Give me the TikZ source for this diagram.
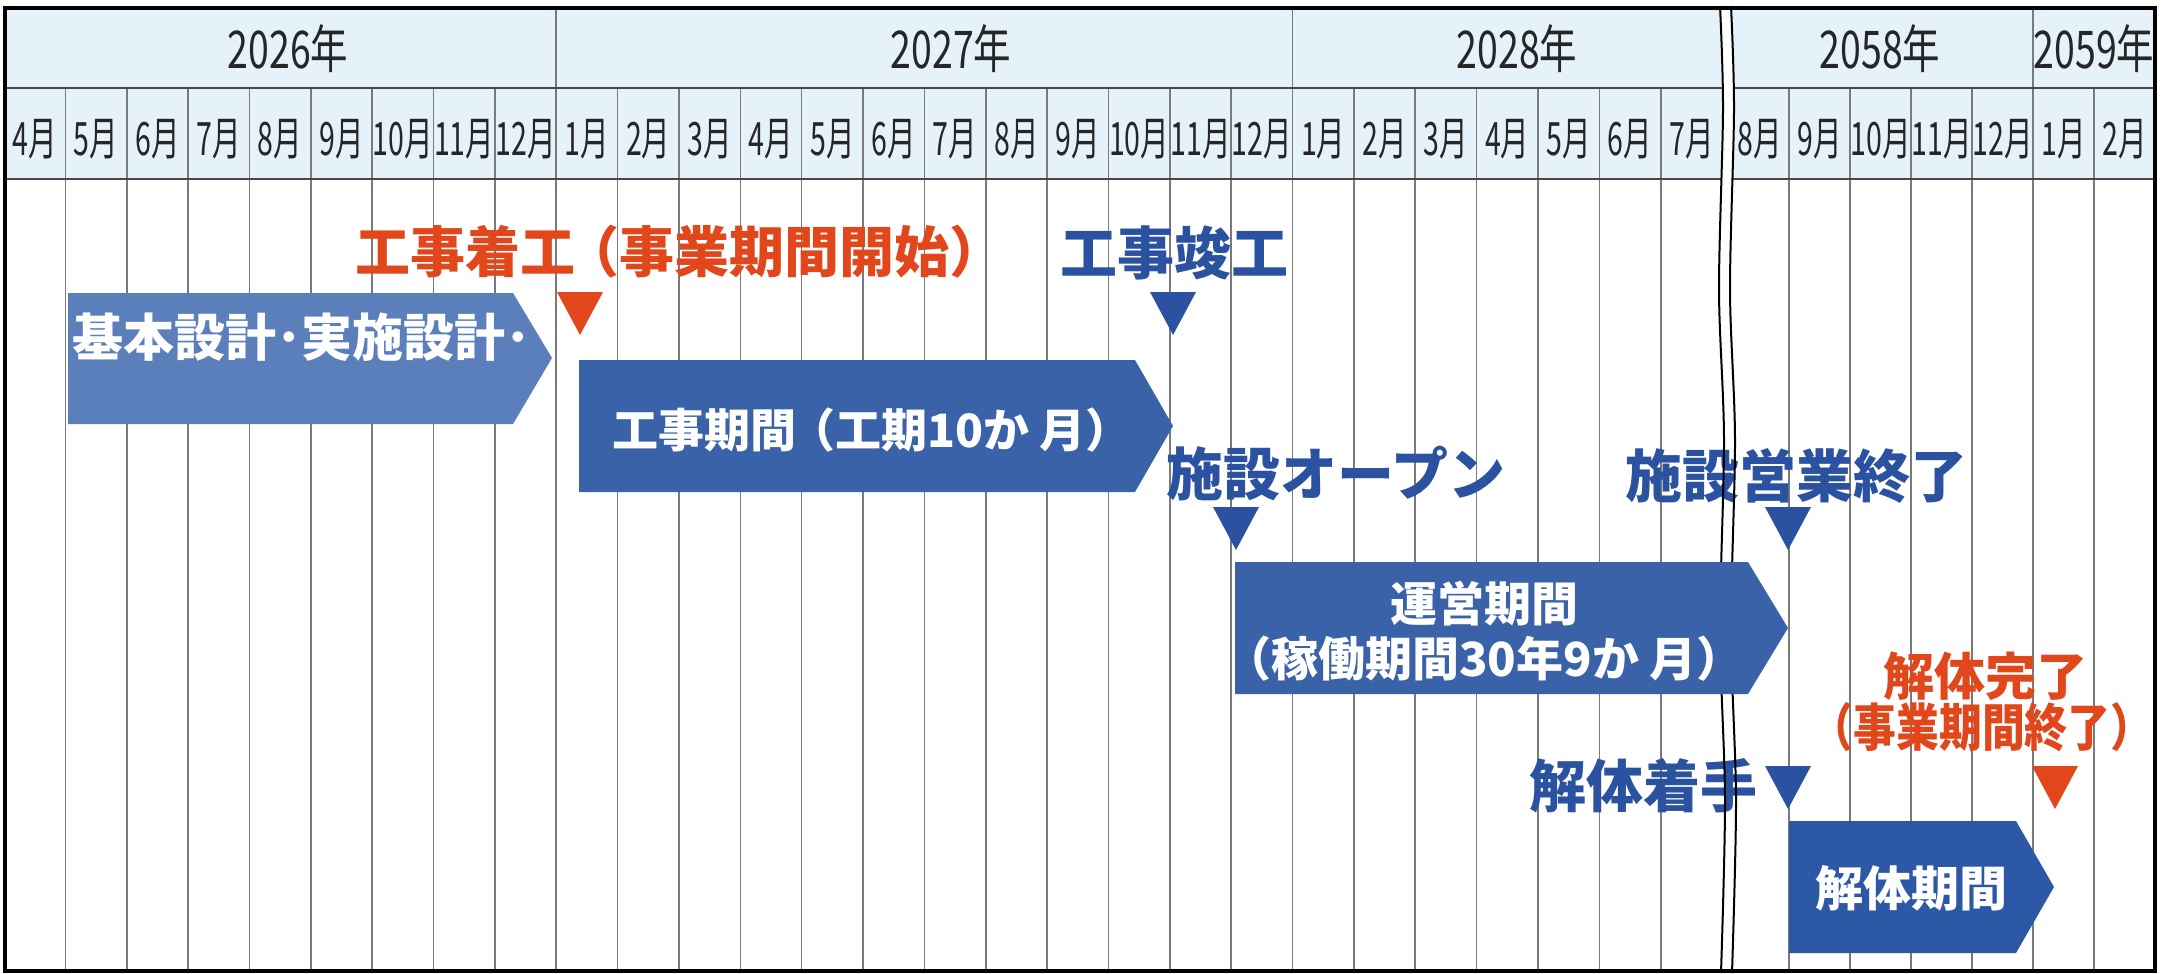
\documentclass[tikz,border=0pt]{standalone}
\usepackage{fontspec}
\usepackage{graphicx}
\setmainfont{Noto Sans CJK JP}
\newfontfamily\jpf{Noto Sans CJK JP}
\newfontfamily\jpyear[FakeStretch=0.72]{Noto Sans CJK JP}
\newfontfamily\jpnarrow[FakeStretch=0.62]{Noto Sans CJK JP}
\definecolor{hdrfill}{HTML}{E5F2FA}
\definecolor{gridc}{HTML}{7A7A7A}
\definecolor{hdrtext}{HTML}{262626}
\definecolor{blkAc}{HTML}{5A7FBA}
\definecolor{blkBc}{HTML}{3A62A8}
\definecolor{blkCc}{HTML}{2D58A6}
\definecolor{msblue}{HTML}{2A52A0}
\definecolor{msred}{HTML}{E2461B}
\begin{document}
\begin{tikzpicture}[x=1pt,y=-1pt,
  yearlbl/.style={font=\jpyear\fontsize{52}{52}\selectfont, text=hdrtext, inner sep=0pt},
  monthlbl/.style={font=\jpnarrow\fontsize{46}{46}\selectfont, text=hdrtext, inner sep=0pt},
  msblab/.style={font=\jpf\bfseries\fontsize{57}{60}\selectfont, text=msblue, inner sep=0pt},
  msrlab/.style={font=\jpf\bfseries\fontsize{55}{60}\selectfont, text=msred, inner sep=0pt},
  blktext/.style={font=\jpf\bfseries\fontsize{47}{55}\selectfont, text=white, inner sep=0pt, align=center},
  gridline/.style={draw=gridc, line width=1.6pt},
  hdrline/.style={draw=hdrtext!85, line width=2.6pt},
  brkline/.style={draw=black, line width=2pt},
  frameline/.style={draw=black, line width=3.5pt},
  blkA/.style={fill=blkAc},
  blkB/.style={fill=blkBc},
  blkC/.style={fill=blkCc},
  redtri/.style={fill=msred},
  bluetri/.style={fill=msblue}]
\useasboundingbox (0,0) rectangle (2163,974);
\fill[white] (0,0) rectangle (2163,974);
% header background
\fill[hdrfill] (5,8) rectangle (2155,179);
% grid, segment 1
\foreach \i in {1,...,27} {
  \draw[gridline] ({4+61.36*\i},88) -- ({4+61.36*\i},971);
}
\foreach \i in {9,21} {
  \draw[gridline] ({4+61.36*\i},8) -- ({4+61.36*\i},971);
}
% grid, segment 2
\foreach \xx in {1789,1850,1911,1972,2094} {
  \draw[gridline] (\xx,88) -- (\xx,971);
}
\draw[gridline] (2033,8) -- (2033,971);
% header horizontal lines
\draw[hdrline] (5,88) -- (2155,88);
\draw[hdrline] (5,179) -- (2155,179);
% break gap (white)
\fill[white] plot[smooth] coordinates {(1720,6) (1723,110) (1719,290) (1724,440) (1720,630) (1725,800) (1721,973)}
  -- plot[smooth] coordinates {(1732,973) (1736,800) (1731,630) (1735,440) (1730,290) (1734,110) (1731,6)} -- cycle;
% year labels
\node[yearlbl] (y2026) at (288,49) {2026年};
\node[yearlbl] (y2027) at (951,49) {2027年};
\node[yearlbl] (y2028) at (1517,49) {2028年};
\node[yearlbl] (y2058) at (1880,49) {2058年};
\node[yearlbl] (y2059) at (2094,49) {2059年};
% month labels
\foreach \m [count=\i from 0] in {4,5,6,7,8,9,10,11,12,1,2,3,4,5,6,7,8,9,10,11,12,1,2,3,4,5,6,7} {
  \node[monthlbl] (ma\i) at ({4+61.36*(\i+0.5)},139) {\m 月};
}
\foreach \m/\xx [count=\i from 0] in {8/1760,9/1819.5,10/1880.5,11/1941.5,12/2002.5,1/2063.5,2/2124.5} {
  \node[monthlbl] (mb\i) at (\xx,139) {\m 月};
}
% milestone labels
\node[msrlab, anchor=west] (ms1) at (355,252) {工事着工\kern-0.2em（事業期間開始）};
\node[msblab] (ms2) at (1174,253) {工事竣工};
\node[msblab] (ms3) at (1336,474) {施設オープン};
\node[msblab] (ms4) at (1796,476) {施設営業終了};
\node[msblab] (ms5) at (1643,786) {解体着手};
\node[msrlab, font=\jpf\bfseries\fontsize{51}{55}\selectfont] (ms6a) at (1985,676) {解体完了};
\node[msrlab, font=\jpf\bfseries\fontsize{51}{55}\selectfont] (ms6b) at (1982,727) {\scalebox{0.84}[1]{（事業期間終了）}};
% break lines
\draw[brkline] plot[smooth] coordinates {(1720,6) (1723,110) (1719,290) (1724,440) (1720,630) (1725,800) (1721,973)};
\draw[brkline] plot[smooth] coordinates {(1731,6) (1734,110) (1730,290) (1735,440) (1731,630) (1736,800) (1732,973)};
% period blocks
\fill[blkA] (68,293) -- (513,293) -- (552,358) -- (513,424) -- (68,424) -- cycle;
\fill[blkB] (579,360) -- (1135,360) -- (1173,426) -- (1135,492) -- (579,492) -- cycle;
\fill[blkB] (1235,562) -- (1748,562) -- (1788,628) -- (1748,694) -- (1235,694) -- cycle;
\fill[blkC] (1789,821) -- (2016,821) -- (2054,887) -- (2016,953) -- (1789,953) -- cycle;
\node[blktext, anchor=west, font=\jpf\bfseries\fontsize{51}{55}\selectfont] (b1) at (72,337) {基本設計･実施設計･};
\node[blktext, font=\jpf\bfseries\fontsize{46}{55}\selectfont] (b2) at (872,430) {工事期間\kern-0.15em（工期10か 月）};
\node[blktext] (b3) at (1484,631) {運営期間\\（稼働期間30年9か 月）};
\node[blktext, font=\jpf\bfseries\fontsize{48}{55}\selectfont] (b4) at (1911,888) {解体期間};
% milestone triangles
\fill[redtri] (557,292) -- (603,292) -- (580,335) -- cycle;
\fill[bluetri] (1150,292) -- (1196,292) -- (1173,335) -- cycle;
\fill[bluetri] (1213,507) -- (1259,507) -- (1236,550) -- cycle;
\fill[bluetri] (1765,507) -- (1811,507) -- (1788,550) -- cycle;
\fill[bluetri] (1765,766) -- (1811,766) -- (1788,809) -- cycle;
\fill[redtri] (2032,766) -- (2078,766) -- (2055,809) -- cycle;
% outer frame
\draw[frameline] (5,8) rectangle (2155,971);
\end{tikzpicture}
\end{document}
